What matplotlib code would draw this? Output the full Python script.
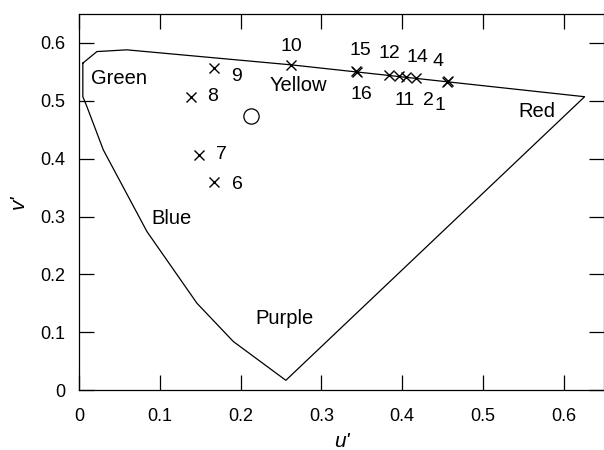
import matplotlib
matplotlib.use("Agg")
import matplotlib.pyplot as plt

plt.rcParams['font.family'] = ['Liberation Sans', 'DejaVu Sans']

# spectrum locus outline (u', v')
locus_u = [0.0046, 0.022, 0.059, 0.263, 0.626, 0.256, 0.191, 0.146, 0.084, 0.030, 0.0096, 0.0046, 0.0046]
locus_v = [0.565, 0.585, 0.588, 0.562, 0.507, 0.017, 0.084, 0.150, 0.274, 0.415, 0.490, 0.507, 0.565]

# measured samples
sample_ids = ['1', '2', '4', '6', '7', '8', '9', '10', '11', '12', '14', '15', '16']
sample_u = [0.456, 0.405, 0.457, 0.167, 0.149, 0.138, 0.167, 0.263, 0.396, 0.384, 0.417, 0.343, 0.344]
sample_v = [0.532, 0.541, 0.534, 0.360, 0.407, 0.507, 0.557, 0.561, 0.542, 0.545, 0.539, 0.551, 0.549]

# white point
white_u = [0.213]
white_v = [0.473]

# label offsets in points (dx, dy)
label_off = {
    '1': (-5, -17), '2': (16, -17), '4': (-7, 14), '6': (17, -2), '7': (16, 0),
    '8': (16, 0), '9': (16, -6), '10': (0, 14), '11': (4, -17), '12': (0, 15),
    '14': (1, 15), '15': (3, 15), '16': (3, -16),
}

regions = ['Green', 'Yellow', 'Red', 'Blue', 'Purple']
region_u = [0.049, 0.272, 0.567, 0.115, 0.254]
region_v = [0.539, 0.527, 0.482, 0.297, 0.124]

fig = plt.figure(figsize=(6.04, 4.5), dpi=100)
ax = fig.add_axes([0.131, 0.133, 0.869, 0.836])

ax.plot(locus_u, locus_v, color='black', lw=0.9)
ax.plot(sample_u, sample_v, 'x', color='black', ms=6.5, mew=1.0)
ax.plot(white_u, white_v, 'o', mfc='white', mec='black', ms=11, mew=0.9)

for sid, u, v in zip(sample_ids, sample_u, sample_v):
    dx, dy = label_off[sid]
    ax.annotate(sid, (u, v), xytext=(dx, dy), textcoords='offset points',
                ha='center', va='center', fontsize=14)

for name, u, v in zip(regions, region_u, region_v):
    ax.text(u, v, name, ha='center', va='center', fontsize=14.5)

ax.set_xlim(0, 0.65)
ax.set_ylim(0, 0.65)
ax.set_xticks([0, 0.1, 0.2, 0.3, 0.4, 0.5, 0.6])
ax.set_xticklabels(['0', '0.1', '0.2', '0.3', '0.4', '0.5', '0.6'])
ax.set_yticks([0, 0.1, 0.2, 0.3, 0.4, 0.5, 0.6])
ax.set_yticklabels(['0', '0.1', '0.2', '0.3', '0.4', '0.5', '0.6'])
ax.tick_params(direction='in', length=11, width=0.9, top=True, right=True,
               labelsize=13)
ax.tick_params(axis='x', pad=13)
ax.tick_params(axis='y', pad=10)
for s in ax.spines.values():
    s.set_linewidth(0.9)

ax.set_xlabel("u'", fontsize=15, style='italic', labelpad=5)
ax.set_ylabel("v'", fontsize=15, style='italic', labelpad=9)

fig.savefig('out.png', dpi=100)
